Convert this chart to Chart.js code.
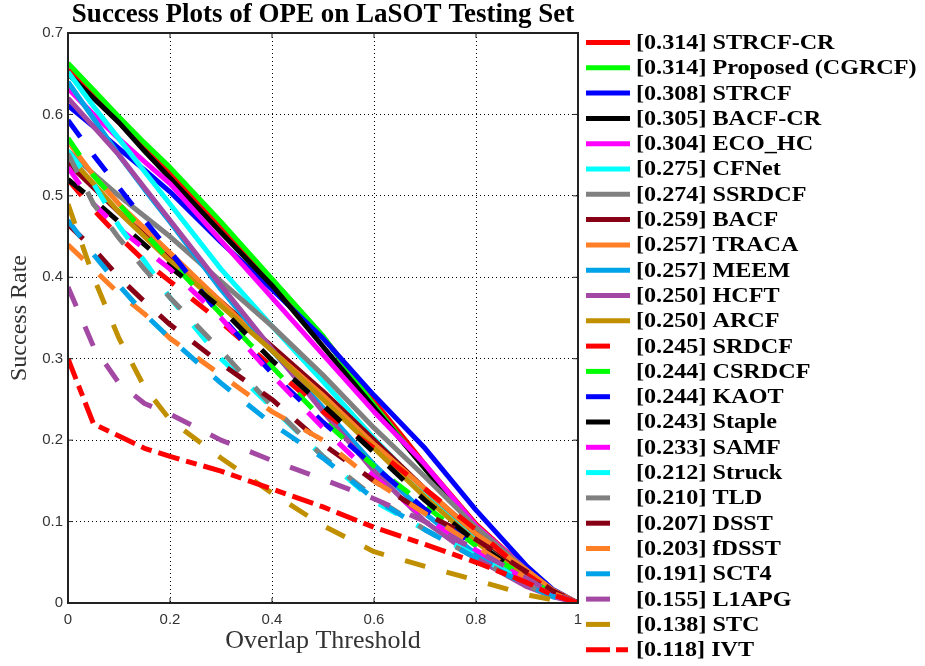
<!DOCTYPE html>
<html>
<head>
<meta charset="utf-8">
<script src="https://cdn.jsdelivr.net/npm/chart.js@4.4.0/dist/chart.umd.min.js"></script>
<style>
  html, body { margin: 0; padding: 0; background: #fff; }
</style>
</head>
<body>
<canvas id="successChart" width="925" height="666"></canvas>
<script>
// overlap thresholds where the success rate is sampled
const thresholds = [0, 0.05, 0.1, 0.15, 0.2, 0.3, 0.4, 0.5, 0.6, 0.7, 0.8, 0.9, 0.95, 1];

const trackers = ['STRCF-CR', 'Proposed (CGRCF)', 'STRCF', 'BACF-CR', 'ECO_HC', 'CFNet', 'SSRDCF', 'BACF',
  'TRACA', 'MEEM', 'HCFT', 'ARCF', 'SRDCF', 'CSRDCF', 'KAOT', 'Staple', 'SAMF', 'Struck', 'TLD', 'DSST',
  'fDSST', 'SCT4', 'L1APG', 'STC', 'IVT'];
const scores = [0.314, 0.314, 0.308, 0.305, 0.304, 0.275, 0.274, 0.259, 0.257, 0.257, 0.250, 0.250, 0.245,
  0.244, 0.244, 0.243, 0.233, 0.212, 0.210, 0.207, 0.203, 0.191, 0.155, 0.138, 0.118];

// success rates, one array per tracker
const strcfCr = [0.655, 0.622, 0.59, 0.558, 0.527, 0.462, 0.397, 0.327, 0.248, 0.17, 0.097, 0.04, 0.015, 0];
const proposed = [0.663, 0.63, 0.597, 0.565, 0.535, 0.468, 0.398, 0.328, 0.243, 0.165, 0.091, 0.035, 0.013, 0];
const strcf = [0.611, 0.585, 0.558, 0.532, 0.505, 0.443, 0.385, 0.325, 0.255, 0.19, 0.114, 0.045, 0.017, 0];
const bacfCr = [0.65, 0.62, 0.59, 0.555, 0.522, 0.455, 0.39, 0.315, 0.24, 0.165, 0.09, 0.035, 0.013, 0];
const ecoHc = [0.632, 0.6, 0.57, 0.542, 0.515, 0.445, 0.375, 0.305, 0.235, 0.17, 0.095, 0.04, 0.015, 0];
const cfnet = [0.652, 0.61, 0.57, 0.53, 0.49, 0.41, 0.34, 0.272, 0.202, 0.138, 0.078, 0.03, 0.012, 0];
const ssrdcf = [0.555, 0.527, 0.5, 0.475, 0.45, 0.395, 0.34, 0.28, 0.215, 0.155, 0.093, 0.04, 0.016, 0];
const bacf = [0.54, 0.51, 0.48, 0.452, 0.425, 0.37, 0.315, 0.26, 0.2, 0.14, 0.085, 0.035, 0.014, 0];
const traca = [0.567, 0.525, 0.49, 0.46, 0.43, 0.37, 0.31, 0.255, 0.195, 0.14, 0.085, 0.04, 0.016, 0];
const meem = [0.64, 0.595, 0.55, 0.508, 0.468, 0.385, 0.31, 0.24, 0.17, 0.11, 0.06, 0.025, 0.01, 0];
const hcft = [0.62, 0.585, 0.55, 0.51, 0.47, 0.39, 0.312, 0.235, 0.162, 0.1, 0.055, 0.02, 0.008, 0];
const arcf = [0.55, 0.515, 0.48, 0.45, 0.42, 0.365, 0.31, 0.25, 0.19, 0.13, 0.075, 0.03, 0.012, 0];
const srdcf = [0.52, 0.483, 0.45, 0.42, 0.395, 0.345, 0.29, 0.235, 0.19, 0.14, 0.09, 0.035, 0.014, 0];
const csrdcf = [0.571, 0.525, 0.49, 0.455, 0.42, 0.355, 0.29, 0.225, 0.168, 0.12, 0.07, 0.03, 0.012, 0];
const kaot = [0.593, 0.55, 0.51, 0.47, 0.432, 0.352, 0.282, 0.222, 0.168, 0.115, 0.07, 0.03, 0.012, 0];
const staple = [0.52, 0.495, 0.468, 0.44, 0.413, 0.362, 0.298, 0.243, 0.185, 0.126, 0.075, 0.03, 0.012, 0];
const samf = [0.535, 0.49, 0.46, 0.435, 0.41, 0.35, 0.28, 0.215, 0.155, 0.105, 0.065, 0.028, 0.01, 0];
const struck = [0.555, 0.515, 0.463, 0.42, 0.375, 0.3, 0.24, 0.18, 0.125, 0.09, 0.058, 0.025, 0.01, 0];
const tld = [0.552, 0.49, 0.448, 0.41, 0.375, 0.31, 0.242, 0.18, 0.13, 0.09, 0.055, 0.022, 0.008, 0];
const dsst = [0.465, 0.435, 0.4, 0.37, 0.342, 0.294, 0.25, 0.195, 0.15, 0.11, 0.078, 0.038, 0.015, 0];
const fdsst = [0.44, 0.41, 0.38, 0.355, 0.325, 0.28, 0.235, 0.2, 0.15, 0.11, 0.07, 0.03, 0.012, 0];
const sct4 = [0.47, 0.428, 0.39, 0.355, 0.325, 0.27, 0.22, 0.178, 0.128, 0.09, 0.055, 0.022, 0.008, 0];
const l1apg = [0.388, 0.315, 0.27, 0.245, 0.232, 0.2, 0.175, 0.152, 0.128, 0.1, 0.065, 0.03, 0.012, 0];
const stc = [0.49, 0.4, 0.325, 0.265, 0.225, 0.178, 0.135, 0.095, 0.063, 0.045, 0.028, 0.01, 0.004, 0];
const ivt = [0.30, 0.22, 0.205, 0.19, 0.18, 0.162, 0.14, 0.118, 0.093, 0.072, 0.05, 0.025, 0.01, 0];

const series = [strcfCr, proposed, strcf, bacfCr, ecoHc, cfnet, ssrdcf, bacf, traca, meem, hcft, arcf,
  srdcf, csrdcf, kaot, staple, samf, struck, tld, dsst, fdsst, sct4, l1apg, stc, ivt];

const palette = ['#ff0000', '#00ff00', '#0000ff', '#000000', '#ff00ff', '#00ffff', '#808080', '#880015',
  '#ff7f27', '#00a2e8', '#a349a4', '#c09000'];

const datasets = series.map(function (vals, i) {
  let dash = [];
  let legendDash = [];
  if (i === 24) { dash = [22, 7, 11, 7]; legendDash = [24, 6, 12, 6]; }
  else if (i >= 12) { dash = [21, 22]; legendDash = [24, 22]; }
  return {
    label: '[' + scores[i].toFixed(3) + '] ' + trackers[i],
    data: thresholds.map((t, k) => ({ x: t, y: vals[k] })),
    borderColor: palette[i % 12],
    borderWidth: 5,
    borderDash: dash,
    legendDash: legendDash,
    borderCapStyle: 'butt',
    borderJoinStyle: 'round',
    pointRadius: 0,
    tension: 0,
    fill: false,
    order: 30 - i
  };
});

// box round the plot area with inward tick marks
const frame = {
  id: 'frame',
  afterDatasetsDraw(chart) {
    const { ctx, chartArea: a, scales } = chart;
    ctx.save();
    ctx.strokeStyle = '#222';
    ctx.lineWidth = 2;
    ctx.strokeRect(a.left, a.top, a.right - a.left, a.bottom - a.top);
    ctx.lineWidth = 1;
    ctx.beginPath();
    scales.x.ticks.forEach(t => {
      const px = scales.x.getPixelForValue(t.value);
      ctx.moveTo(px, a.bottom); ctx.lineTo(px, a.bottom - 5);
      ctx.moveTo(px, a.top); ctx.lineTo(px, a.top + 5);
    });
    scales.y.ticks.forEach(t => {
      const py = scales.y.getPixelForValue(t.value);
      ctx.moveTo(a.left, py); ctx.lineTo(a.left + 5, py);
      ctx.moveTo(a.right, py); ctx.lineTo(a.right - 5, py);
    });
    ctx.stroke();
    ctx.restore();
  }
};

// legend column on the right (text slightly widened like the source figure)
const sideLegend = {
  id: 'sideLegend',
  afterDraw(chart) {
    const ctx = chart.ctx;
    ctx.save();
    ctx.font = 'bold 21px "Liberation Serif"';
    ctx.textBaseline = 'middle';
    ctx.textAlign = 'left';
    chart.data.datasets.forEach(function (ds, i) {
      const y = 42.5 + i * 25.3;
      ctx.strokeStyle = ds.borderColor;
      ctx.lineWidth = 5;
      ctx.lineCap = 'butt';
      ctx.setLineDash(ds.legendDash);
      ctx.beginPath();
      ctx.moveTo(586, y);
      ctx.lineTo(630, y);
      ctx.stroke();
      ctx.setLineDash([]);
      ctx.fillStyle = '#000';
      ctx.save();
      ctx.translate(636, y + 1);
      ctx.scale(1.15, 1);
      ctx.fillText(ds.label, 0, 0);
      ctx.restore();
    });
    ctx.restore();
  }
};

const tickText = v => String(Number(v.toFixed(1)));

const ctx = document.getElementById('successChart').getContext('2d');
const successChart = new Chart(ctx, {
  type: 'line',
  data: { datasets: datasets },
  plugins: [frame, sideLegend],
  options: {
    responsive: false,
    animation: false,
    devicePixelRatio: 1,
    layout: { padding: { left: 0, right: 347, top: 0, bottom: 0 } },
    plugins: {
      legend: { display: false },
      tooltip: { enabled: false },
      title: {
        display: true,
        fullSize: false,
        text: 'Success Plots of OPE on LaSOT Testing Set',
        color: '#000',
        font: { family: 'Liberation Serif', size: 27, weight: 'bold', lineHeight: 1 },
        padding: { top: 2, bottom: 4 }
      }
    },
    scales: {
      x: {
        type: 'linear',
        min: 0,
        max: 1,
        ticks: { stepSize: 0.2, padding: 8, color: '#333', font: { family: 'Liberation Sans', size: 15 }, callback: tickText },
        grid: { color: '#000', lineWidth: 1, drawTicks: false },
        border: { display: false, dash: [1, 3] },
        title: {
          display: true,
          text: 'Overlap Threshold',
          color: '#333',
          font: { family: 'Liberation Serif', size: 26 },
          padding: { top: 0, bottom: 9 }
        },
        afterFit: function (scale) { scale.height = 63; }
      },
      y: {
        type: 'linear',
        min: 0,
        max: 0.7,
        ticks: { stepSize: 0.1, padding: 5, color: '#333', font: { family: 'Liberation Sans', size: 15 }, callback: tickText },
        grid: { color: '#000', lineWidth: 1, drawTicks: false },
        border: { display: false, dash: [1, 3] },
        title: {
          display: true,
          text: 'Success Rate',
          color: '#333',
          font: { family: 'Liberation Serif', size: 24 },
          padding: { top: 5, bottom: 0 }
        },
        afterFit: function (scale) { scale.width = 68; }
      }
    }
  }
});
</script>
</body>
</html>
